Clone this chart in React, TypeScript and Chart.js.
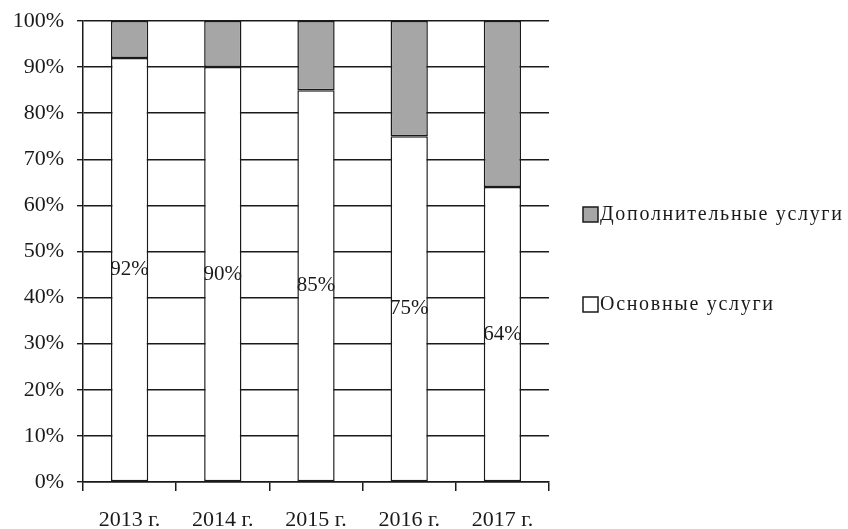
import React, { useEffect, useRef } from "react";
import { Chart, registerables } from "chart.js";

Chart.register(...registerables);

const categories = ["2013 г.", "2014 г.", "2015 г.", "2016 г.", "2017 г."];
const basicServices = [92, 90, 85, 75, 64];
const extraServices = [8, 10, 15, 25, 36];
const yTicks = [0, 10, 20, 30, 40, 50, 60, 70, 80, 90, 100];

const SERIF = "'Liberation Serif', 'Times New Roman', serif";
const INK = "#1a1a1a";
const GREY = "#a6a6a6";

// Percent labels centred inside the white (basic services) segments
const valueLabels = {
  id: "valueLabels",
  afterDatasetsDraw(chart: any) {
    const { ctx } = chart;
    const meta = chart.getDatasetMeta(0);
    ctx.save();
    ctx.font = `21px ${SERIF}`;
    ctx.fillStyle = INK;
    ctx.textAlign = "center";
    ctx.textBaseline = "middle";
    meta.data.forEach((bar: any, i: number) => {
      const p = bar.getCenterPoint();
      ctx.fillText(`${basicServices[i]}%`, p.x, p.y);
    });
    ctx.restore();
  },
};

// Legend at the right, listed top series first
const sideLegend = {
  id: "sideLegend",
  afterDraw(chart: any) {
    const { ctx } = chart;
    const items = [
      { text: "Дополнительные услуги", fill: GREY, y: 215 },
      { text: "Основные услуги", fill: "#ffffff", y: 305 },
    ];
    ctx.save();
    ctx.font = `20px ${SERIF}`;
    (ctx as any).letterSpacing = "1.7px";
    ctx.textBaseline = "middle";
    ctx.textAlign = "left";
    items.forEach((it) => {
      ctx.fillStyle = it.fill;
      ctx.fillRect(583, it.y - 8, 15, 15);
      ctx.strokeStyle = INK;
      ctx.lineWidth = 1.5;
      ctx.strokeRect(583, it.y - 8, 15, 15);
      ctx.fillStyle = INK;
      ctx.fillText(it.text, 600, it.y);
    });
    ctx.restore();
  },
};

export default function App() {
  const canvasRef = useRef<HTMLCanvasElement | null>(null);

  useEffect(() => {
    if (!canvasRef.current) return;
    const chart = new Chart(canvasRef.current, {
      type: "bar",
      data: {
        labels: categories,
        datasets: [
          {
            label: "Основные услуги",
            data: basicServices,
            backgroundColor: "#ffffff",
            borderColor: INK,
            borderWidth: 1.5,
            borderSkipped: false,
            barPercentage: 0.4,
            categoryPercentage: 1,
          },
          {
            label: "Дополнительные услуги",
            data: extraServices,
            backgroundColor: GREY,
            borderColor: INK,
            borderWidth: 1.5,
            borderSkipped: false,
            barPercentage: 0.4,
            categoryPercentage: 1,
          },
        ],
      },
      options: {
        animation: false,
        responsive: false,
        layout: { padding: { top: 21, right: 299, left: 0, bottom: 0 } },
        plugins: {
          legend: { display: false },
          tooltip: { enabled: false },
        },
        scales: {
          x: {
            stacked: true,
            grid: {
              display: true,
              offset: true,
              drawOnChartArea: false,
              drawTicks: true,
              tickLength: 9,
              color: INK,
              lineWidth: 1.5,
            },
            border: { display: true, color: INK, width: 1.5 },
            ticks: {
              font: { family: SERIF, size: 22 },
              color: INK,
              padding: 16,
            },
            afterFit: (scale: any) => {
              scale.height = 47;
            },
          },
          y: {
            stacked: true,
            min: 0,
            max: 100,
            afterBuildTicks: (scale: any) => {
              scale.ticks = yTicks.map((v) => ({ value: v }));
            },
            grid: {
              color: INK,
              lineWidth: 1.4,
              drawTicks: true,
              tickLength: 6,
            },
            border: { display: true, color: INK, width: 1.5 },
            ticks: {
              font: { family: SERIF, size: 22 },
              color: INK,
              padding: 13,
              callback: (v: any) => `${v}%`,
            },
            afterFit: (scale: any) => {
              scale.width = 83;
              scale.paddingTop = 0;
              scale.paddingBottom = 0;
            },
          },
        },
      },
      plugins: [valueLabels, sideLegend],
    });
    return () => chart.destroy();
  }, []);

  return (
    <div style={{ position: "fixed", left: 0, top: 0, width: 848, height: 529, background: "#fff" }}>
      <canvas ref={canvasRef} width={848} height={529} />
    </div>
  );
}
